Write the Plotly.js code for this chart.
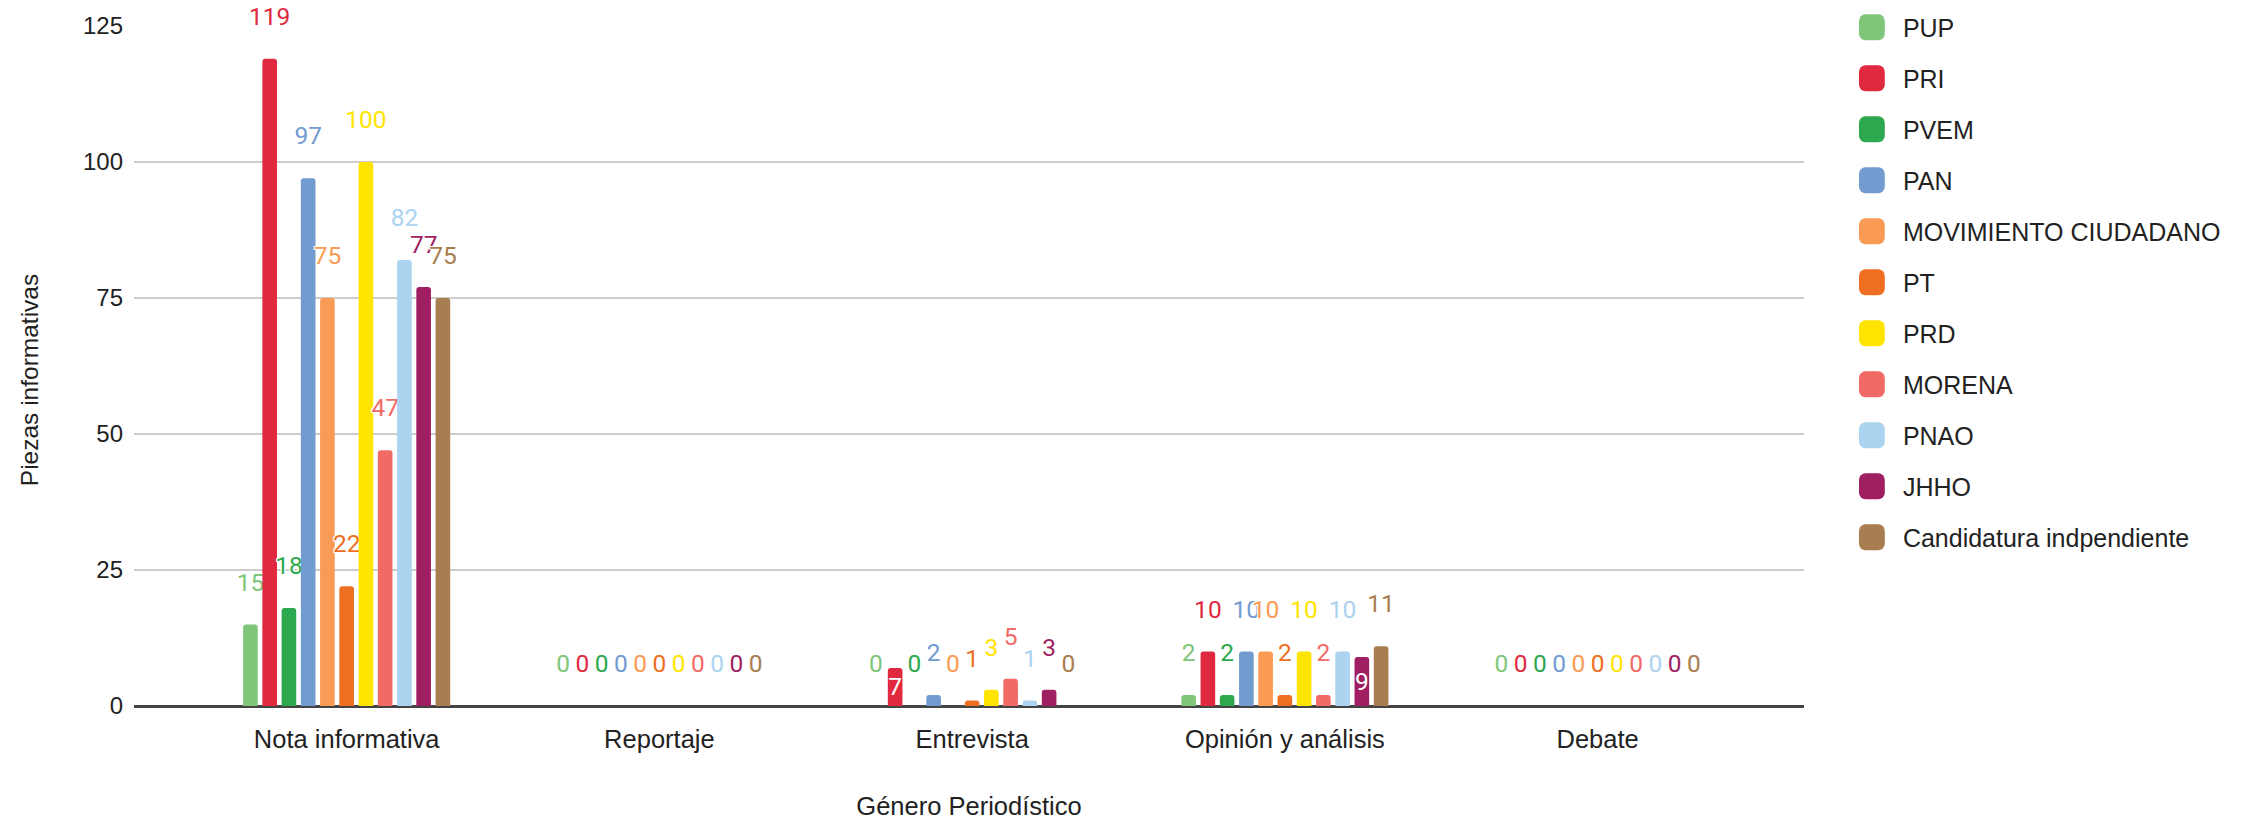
<!DOCTYPE html>
<html>
<head>
<meta charset="utf-8">
<script src="https://cdn.plot.ly/plotly-3.0.1.min.js"></script>
<style>html,body{margin:0;padding:0;background:#fff;}#chart{width:2242px;height:820px;}</style>
</head>
<body>
<div id="chart"></div>
<script>
const categories = ['Nota informativa', 'Reportaje', 'Entrevista', 'Opinión y análisis', 'Debate'];
const seriesNames = ['PUP', 'PRI', 'PVEM', 'PAN', 'MOVIMIENTO CIUDADANO', 'PT', 'PRD', 'MORENA', 'PNAO', 'JHHO', 'Candidatura indpendiente'];
const PUP = [15, 0, 0, 2, 0];
const PRI = [119, 0, 7, 10, 0];
const PVEM = [18, 0, 0, 2, 0];
const PAN = [97, 0, 2, 10, 0];
const MOVIMIENTO_CIUDADANO = [75, 0, 0, 10, 0];
const PT = [22, 0, 1, 2, 0];
const PRD = [100, 0, 3, 10, 0];
const MORENA = [47, 0, 5, 2, 0];
const PNAO = [82, 0, 1, 10, 0];
const JHHO = [77, 0, 3, 9, 0];
const CANDIDATURA_INDEPENDIENTE = [75, 0, 0, 11, 0];
const seriesValues = [PUP, PRI, PVEM, PAN, MOVIMIENTO_CIUDADANO, PT, PRD, MORENA, PNAO, JHHO, CANDIDATURA_INDEPENDIENTE];
const seriesColors = ['#7fc57a', '#e0293e', '#2ea84f', '#729bd0', '#f99b54', '#ee6f22', '#ffe400', '#f26a66', '#acd3f0', '#a01f62', '#a87d4f'];
// labels drawn inside their bar in the reference: [series index, category index]
const insideLabels = [[1, 2], [9, 3]];

const FONT = '"Liberation Sans", Arial, sans-serif';
const halo = '-1px -1px 0 #fff, 1px -1px 0 #fff, -1px 1px 0 #fff, 1px 1px 0 #fff, 0 -1px 0 #fff, 0 1px 0 #fff, -1px 0 0 #fff, 1px 0 0 #fff';

const traces = seriesNames.map((name, i) => {
  const vals = seriesValues[i];
  const pos = vals.map((v, j) => insideLabels.some(p => p[0] === i && p[1] === j) ? 'inside' : 'outside');
  const tmpl = pos.map(p => p === 'inside' ? '%{y}' : '%{y}<br>\u00a0');
  return {
    type: 'bar',
    name: name,
    x: categories,
    y: vals,
    legendgroup: 'g' + i,
    marker: {color: seriesColors[i], line: {width: 0}},
    texttemplate: tmpl,
    textposition: pos,
    insidetextanchor: 'middle',
    constraintext: 'none',
    cliponaxis: false,
    textangle: 0,
    outsidetextfont: {family: 'Roboto, sans-serif', size: 24.5, color: seriesColors[i], shadow: halo},
    insidetextfont: {family: 'Roboto, sans-serif', size: 24.5, color: '#ffffff'},
    hoverinfo: 'x+y+name'
  };
});

const layout = {
  width: 2242,
  height: 820,
  margin: {l: 134, r: 438, t: 26, b: 114, pad: 0},
  paper_bgcolor: '#ffffff',
  plot_bgcolor: '#ffffff',
  barmode: 'group',
  bargap: 0.323,
  bargroupgap: 0.24,
  barcornerradius: 3,
  font: {family: FONT, size: 24, color: '#222222'},
  xaxis: {
    type: 'category',
    range: [-0.68, 4.66],
    showgrid: false,
    zeroline: false,
    showline: false,
    ticks: '',
    tickfont: {family: FONT, size: 25.5, color: '#222222'},
    ticklabelstandoff: 15,
    title: {text: 'Género Periodístico', font: {family: FONT, size: 25.5, color: '#222222'}, standoff: 45}
  },
  yaxis: {
    range: [0, 125],
    tickvals: [0, 25, 50, 75, 100, 125],
    showgrid: true,
    gridcolor: '#cccccc',
    gridwidth: 1.5,
    zeroline: true,
    zerolinecolor: '#444444',
    zerolinewidth: 2.5,
    showline: false,
    ticks: '',
    tickfont: {family: FONT, size: 24, color: '#222222'},
    ticklabelstandoff: 10,
    title: {text: 'Piezas informativas', font: {family: FONT, size: 24.5, color: '#222222'}, standoff: 37}
  },
  showlegend: true,
  legend: {
    xref: 'container', yref: 'container',
    x: 0.826, y: 0.9945,
    xanchor: 'left', yanchor: 'top',
    traceorder: 'grouped',
    tracegroupgap: 15.5,
    itemwidth: 41,
    maxheight: 800,
    font: {family: FONT, size: 25, color: '#222222'},
    bgcolor: 'rgba(0,0,0,0)',
    borderwidth: 0
  }
};

Plotly.newPlot('chart', traces, layout, {displayModeBar: false}).then(function (gd) {
  gd.querySelectorAll('.legend .legendpoints path').forEach(function (p) {
    p.setAttribute('transform', 'translate(20,0) scale(2.15)');
  });
  gd.querySelectorAll('text.bartext-outside').forEach(function (t) {
    const tr = t.getAttribute('transform') || '';
    t.setAttribute('transform', 'translate(0,7) ' + tr);
  });
  gd.querySelectorAll('.g-ytitle text').forEach(function (t) {
    const tr = t.getAttribute('transform') || '';
    t.setAttribute('transform', 'translate(0,14) ' + tr);
  });
});
</script>
</body>
</html>
